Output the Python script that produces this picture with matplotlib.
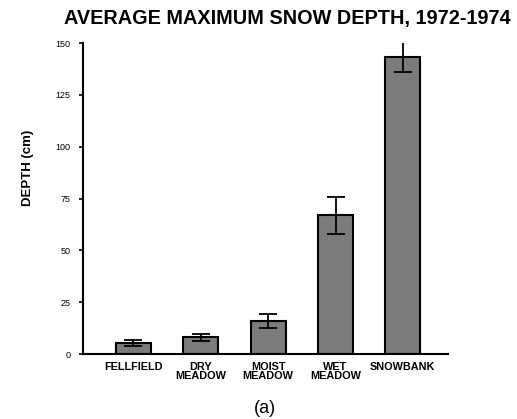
import matplotlib.pyplot as plt
import numpy as np

plt.rcParams["font.family"] = ["Liberation Sans", "DejaVu Sans"]

# Snow depth by community (cm)
sites = ["FELLFIELD", "DRY\nMEADOW", "MOIST\nMEADOW", "WET\nMEADOW", "SNOWBANK"]
depth = [5.5, 8.0, 16.0, 67.0, 143.5]
err = [1.4, 1.7, 3.3, 9.0, 7.5]
yticks = [0, 25, 50, 75, 100, 125, 150]

fig = plt.figure(figsize=(5.17, 4.19), dpi=100)
ax = fig.add_axes([0.1605, 0.155, 0.706, 0.742])

x = np.arange(len(sites))
ax.bar(x, depth, width=0.52, color="#7b7b7b", edgecolor="black", linewidth=1.5,
       yerr=err, error_kw=dict(ecolor="black", elinewidth=1.3, capsize=6.5, capthick=1.3),
       zorder=2)

ax.set_xlim(-0.75, 4.67)
ax.set_ylim(0, 150)
ax.set_yticks(yticks)
ax.set_yticklabels([str(t) for t in yticks], fontsize=6.5)
ax.set_xticks(x)
ax.set_xticklabels(sites, fontsize=7.8, fontweight="bold", linespacing=0.85)
ax.tick_params(axis="x", length=0, pad=6)
ax.tick_params(axis="y", length=3, width=1.2, direction="out", pad=6)

for s in ["top", "right"]:
    ax.spines[s].set_visible(False)
for s in ["left", "bottom"]:
    ax.spines[s].set_linewidth(1.5)

ax.set_ylabel("DEPTH (cm)", fontsize=9.5, fontweight="bold")
ax.yaxis.set_label_coords(-0.135, 0.6)
fig.text(0.555, 0.957, "AVERAGE MAXIMUM SNOW DEPTH, 1972-1974",
         ha="center", va="center", fontsize=14.3, fontweight="bold")
fig.text(0.513, 0.026, "(a)", ha="center", va="center", fontsize=13)

fig.savefig("out.png", dpi=100)
